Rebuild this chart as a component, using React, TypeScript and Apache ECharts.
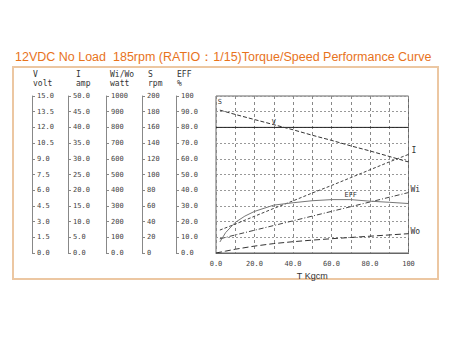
import React, { useEffect, useRef } from "react";
import * as echarts from "echarts";

const titleText = "12VDC No Load  185rpm (RATIO：1/15)Torque/Speed Performance Curve";
const torque = [2, 10, 20, 30, 40, 50, 60, 70, 80, 90, 100];
const speedRpm = [182, 176.5, 170, 163.5, 157, 150, 143.5, 136.5, 130, 123, 116];
const currentA = [7.3, 9.2, 11.7, 14.2, 16.6, 19.1, 21.5, 24, 26.5, 29, 31.4];
const inputW = [90, 115, 145, 175, 205, 235, 265, 295, 325, 355, 385];
const voltTorque = [0, 30, 100];
const voltV = [12, 12, 12];
const woTorque = [0, 5, 10, 20, 30, 40, 50, 60, 70, 80, 90, 100];
const outputW = [0, 12, 24, 44, 60, 72, 82, 91, 99, 107, 115, 123];
const effTorque = [2, 5, 10, 15, 20, 30, 40, 50, 60, 70, 80, 90, 100];
const effPct = [7, 13, 19.5, 23.5, 26.5, 30.5, 32, 33.3, 34, 34, 33, 32.3, 31.5];

const vTicks = ["0.0", "1.5", "3.0", "4.5", "6.0", "7.5", "9.0", "10.5", "12.0", "13.5", "15.0"];
const iTicks = ["0.0", "5.0", "10.0", "15.0", "20.0", "25.0", "30.0", "35.0", "40.0", "45.0", "50.0"];
const wTicks = ["0.0", "100", "200", "300", "400", "500", "600", "700", "800", "900", "1000"];
const sTicks = ["0", "20", "40", "60", "80", "100", "120", "140", "160", "180", "200"];
const effTicks = ["0.0", "10.0", "20.0", "30.0", "40.0", "50.0", "60.0", "70.0", "80.0", "90.0", "100"];
const xTicks = ["0.0", "20.0", "40.0", "60.0", "80.0", "100"];

const MONO = "DejaVu Sans Mono";

function yAx(name: string, max: number, offset: number, ticks: string[], split: boolean, namePad: number) {
  return {
    type: "value",
    gridIndex: 0,
    position: "left",
    offset,
    min: 0,
    max,
    interval: max / 10,
    name,
    nameLocation: "end",
    nameGap: 8,
    nameTextStyle: {
      align: "left",
      verticalAlign: "bottom",
      fontFamily: MONO,
      fontSize: 8,
      lineHeight: 9,
      color: "#333",
      padding: [0, 0, 0, namePad],
    },
    axisLine: { show: true, onZero: false, lineStyle: { color: "#888", width: 1 } },
    axisTick: { show: true, inside: true, length: 3, lineStyle: { color: "#888" } },
    axisLabel: {
      inside: true,
      margin: 5,
      fontFamily: MONO,
      fontSize: 7,
      color: "#444",
      formatter: (v: number) => ticks[Math.round((v / max) * 10)] ?? "",
    },
    splitLine: split
      ? { show: true, lineStyle: { color: "#999", type: [2, 2], width: 1 } }
      : { show: false },
  };
}

export default function App() {
  const ref = useRef<HTMLDivElement>(null);
  useEffect(() => {
    if (!ref.current) return;
    const chart = echarts.init(ref.current, null, { renderer: "svg" });
    const line = (
      name: string,
      xs: number[],
      ys: number[],
      yAxisIndex: number,
      style: any,
      labels: Record<number, any> = {}
    ) => ({
      name,
      type: "line",
      yAxisIndex,
      showSymbol: true,
      symbol: "circle",
      symbolSize: 0,
      smooth: false,
      itemStyle: { color: style.color },
      lineStyle: style,
      data: xs.map((x, i) =>
        labels[i]
          ? {
              value: [x, ys[i]],
              label: {
                show: true,
                fontFamily: MONO,
                fontSize: 8,
                ...labels[i],
                color: "#333",
                textBorderWidth: 0,
              },
            }
          : [x, ys[i]]
      ),
    });
    chart.setOption({
      animation: false,
      backgroundColor: "#fff",
      title: {
        text: titleText,
        left: 10,
        top: 45,
        textStyle: {
          fontFamily: "Liberation Sans",
          fontSize: 12.5,
          fontWeight: "normal",
          color: "#e8731c",
        },
      },
      graphic: [
        {
          type: "rect",
          shape: { x: 13, y: 67, width: 425, height: 212 },
          style: { fill: "none", stroke: "#ecc7a2", lineWidth: 2 },
          z: -1,
        },
      ],
      grid: { left: 216, right: 41.5, top: 96, bottom: 85, show: true, borderColor: "#666", borderWidth: 1 },
      xAxis: {
        type: "value",
        min: 0,
        max: 100,
        interval: 10,
        name: "T Kgcm",
        nameLocation: "middle",
        nameGap: 18,
        nameTextStyle: { fontFamily: "Liberation Sans", fontSize: 9, color: "#333" },
        axisLine: { show: true, onZero: false, lineStyle: { color: "#666" } },
        axisTick: { show: false },
        axisLabel: {
          margin: 7,
          fontFamily: MONO,
          fontSize: 7,
          color: "#444",
          formatter: (v: number) => (v % 20 === 0 ? xTicks[v / 20] : ""),
        },
        splitLine: { show: true, lineStyle: { color: "#888", type: [3, 3], width: 1 } },
      },
      yAxis: [
        yAx("V\nvolt", 15, 184, vTicks, true, 1),
        yAx("I\namp", 50, 148, iTicks, false, 8),
        yAx("Wi/Wo\nwatt", 1000, 110, wTicks, false, 4),
        yAx("S\nrpm", 200, 74, sTicks, false, 6),
        yAx("EFF\n%", 100, 40, effTicks, false, 1),
      ],
      series: [
        line("V", voltTorque, voltV, 0, { color: "#222", width: 1 }, {
          1: { formatter: "V", position: "top", distance: 2, fontSize: 7 },
        }),
        line("S", torque, speedRpm, 3, { color: "#333", width: 1, type: [4, 2] }, {
          0: { formatter: "S", position: "top", distance: 5, fontSize: 7 },
        }),
        line("I", torque, currentA, 1, { color: "#444", width: 1, type: [3, 2] }, {
          10: { formatter: "I", position: "right", distance: 3, offset: [0, -4] },
        }),
        line("Wi", torque, inputW, 2, { color: "#444", width: 1, type: [5, 2, 1, 2] }, {
          10: { formatter: "Wi", position: "right", distance: 2, offset: [0, -3] },
        }),
        line("Wo", woTorque, outputW, 2, { color: "#333", width: 1, type: [6, 3] }, {
          11: { formatter: "Wo", position: "right", distance: 2, offset: [0, -2] },
        }),
        line("EFF", effTorque, effPct, 4, { color: "#777", width: 1 }, {
          9: { formatter: "EFF", position: "top", distance: 1, fontSize: 7 },
        }),
      ],
    });
    return () => chart.dispose();
  }, []);
  return <div ref={ref} style={{ width: 450, height: 338, position: "absolute", left: 0, top: 0 }} />;
}
